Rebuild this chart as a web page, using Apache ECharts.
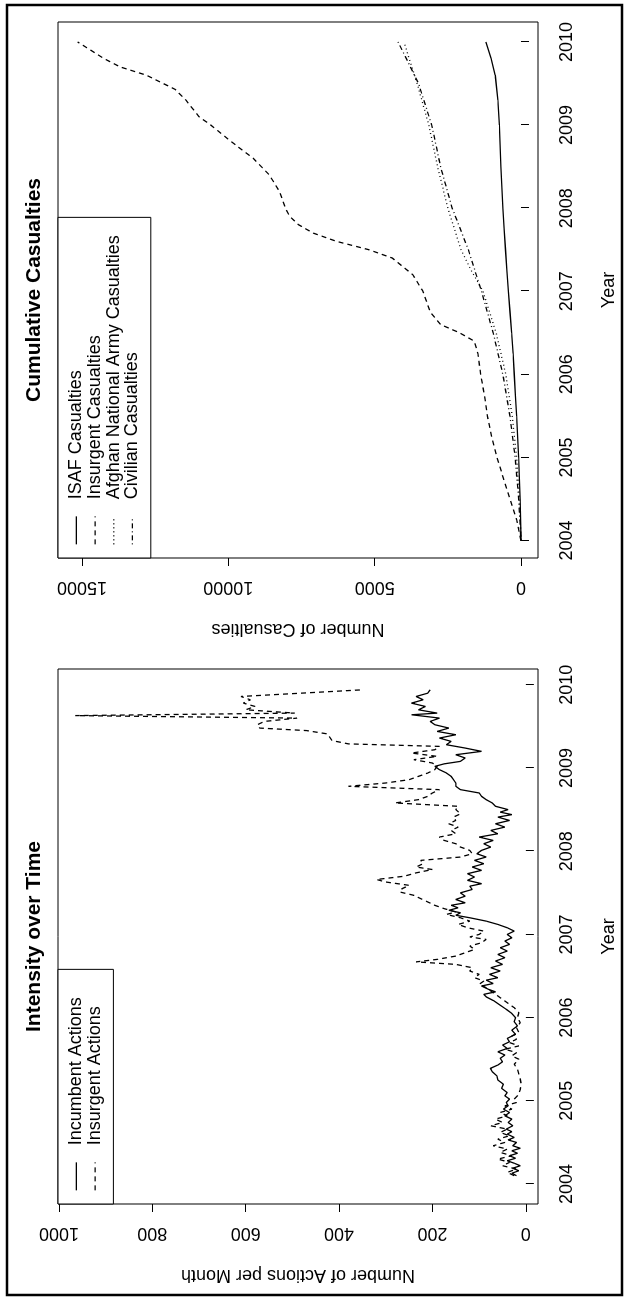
<!DOCTYPE html>
<html>
<head>
<meta charset="utf-8">
<script src="https://cdn.jsdelivr.net/npm/echarts@6/dist/echarts.min.js"></script>
<style>
html,body{margin:0;padding:0;background:#fff;overflow:hidden;width:626px;height:1297px;}
#wrap{position:absolute;left:0;top:0;width:1297px;height:626px;transform-origin:0 0;transform:rotate(-90deg) translateX(-1297px);}
</style>
</head>
<body>
<div id="wrap"></div>
<script>
// ---- data ----
const yearTicks = [2004, 2005, 2006, 2007, 2008, 2009, 2010];
const actionTicks = [0, 200, 400, 600, 800, 1000];
const casualtyTicks = [0, 5000, 10000, 15000];

const incumbentActions = [
[2004.10,20],[2004.13,30],[2004.16,15],[2004.19,28],[2004.22,12],[2004.25,25],[2004.28,40],[2004.31,22],
[2004.34,35],[2004.37,18],[2004.40,30],[2004.43,12],[2004.46,28],[2004.50,20],[2004.53,38],[2004.56,25],
[2004.60,40],[2004.63,30],[2004.66,42],[2004.70,28],[2004.74,38],[2004.78,30],[2004.82,45],[2004.86,35],
[2004.90,48],[2004.94,38],[2004.98,42],[2005.02,35],[2005.06,45],[2005.10,40],[2005.15,52],[2005.20,48],
[2005.25,60],[2005.30,62],[2005.35,72],[2005.39,76],[2005.43,60],[2005.47,50],[2005.51,55],[2005.55,45],
[2005.59,60],[2005.63,40],[2005.67,50],[2005.71,35],[2005.75,40],[2005.80,22],[2005.85,30],[2005.90,18],
[2005.95,25],[2006.00,22],[2006.05,30],[2006.10,42],[2006.15,55],[2006.20,68],[2006.25,85],[2006.28,90],
[2006.31,65],[2006.34,80],[2006.38,95],[2006.41,70],[2006.45,85],[2006.48,60],[2006.52,78],[2006.56,55],
[2006.60,75],[2006.64,50],[2006.68,65],[2006.72,45],[2006.76,60],[2006.80,40],[2006.84,55],[2006.88,35],
[2006.92,45],[2006.96,30],[2007.00,40],[2007.04,25],[2007.08,40],[2007.12,60],[2007.16,85],[2007.20,120],
[2007.23,150],[2007.26,140],[2007.29,165],[2007.32,145],[2007.35,160],[2007.38,130],[2007.42,150],[2007.46,130],
[2007.50,140],[2007.54,115],[2007.58,120],[2007.61,95],[2007.65,125],[2007.69,110],[2007.73,125],[2007.77,95],
[2007.81,115],[2007.85,90],[2007.89,110],[2007.93,85],[2007.97,105],[2008.01,95],[2008.05,75],[2008.09,90],
[2008.13,70],[2008.17,100],[2008.21,60],[2008.25,75],[2008.29,45],[2008.33,65],[2008.37,35],[2008.41,60],
[2008.44,30],[2008.47,55],[2008.50,38],[2008.54,65],[2008.58,72],[2008.62,85],[2008.66,95],[2008.70,100],
[2008.74,140],[2008.78,150],[2008.82,150],[2008.86,155],[2008.90,160],[2008.94,170],[2008.98,185],[2009.02,195],
[2009.05,175],[2009.08,140],[2009.12,130],[2009.16,150],[2009.20,95],[2009.24,130],[2009.28,170],[2009.32,160],
[2009.36,185],[2009.40,150],[2009.44,190],[2009.48,165],[2009.52,195],[2009.56,205],[2009.60,185],[2009.64,245],
[2009.66,190],[2009.70,230],[2009.74,215],[2009.78,245],[2009.82,220],[2009.86,235],[2009.90,210],[2009.94,205]
];

const insurgentActions = [
[2004.10,25],[2004.14,40],[2004.18,20],[2004.22,50],[2004.26,35],[2004.30,60],[2004.34,30],[2004.38,55],
[2004.42,40],[2004.46,70],[2004.50,45],[2004.54,60],[2004.58,35],[2004.62,55],[2004.66,40],[2004.70,75],
[2004.74,50],[2004.78,65],[2004.82,40],[2004.86,55],[2004.90,30],[2004.94,45],[2004.98,20],[2005.02,25],
[2005.08,15],[2005.14,12],[2005.20,10],[2005.26,12],[2005.32,15],[2005.38,18],[2005.44,25],[2005.50,15],
[2005.54,30],[2005.58,20],[2005.62,45],[2005.66,15],[2005.70,35],[2005.74,20],[2005.78,30],[2005.82,15],
[2005.88,20],[2005.94,12],[2006.00,18],[2006.06,15],[2006.12,25],[2006.18,40],[2006.24,55],[2006.30,70],
[2006.36,85],[2006.40,100],[2006.44,90],[2006.48,110],[2006.52,100],[2006.56,120],[2006.60,115],[2006.64,150],
[2006.67,235],[2006.70,190],[2006.74,150],[2006.78,130],[2006.82,110],[2006.86,120],[2006.90,95],[2006.94,85],
[2006.97,120],[2007.00,100],[2007.04,90],[2007.08,125],[2007.12,145],[2007.16,120],[2007.20,140],[2007.24,170],
[2007.27,150],[2007.31,175],[2007.35,195],[2007.39,210],[2007.43,225],[2007.47,240],[2007.51,270],[2007.55,265],
[2007.59,250],[2007.63,300],[2007.66,320],[2007.70,260],[2007.74,235],[2007.78,200],[2007.81,235],[2007.85,220],
[2007.89,225],[2007.93,140],[2007.97,115],[2008.01,120],[2008.05,140],[2008.09,150],[2008.13,175],[2008.17,185],
[2008.21,150],[2008.25,160],[2008.29,145],[2008.33,165],[2008.37,150],[2008.41,155],[2008.45,140],[2008.50,150],
[2008.54,145],[2008.58,280],[2008.62,230],[2008.66,210],[2008.70,200],[2008.74,185],[2008.78,380],[2008.82,300],
[2008.86,250],[2008.90,230],[2008.94,210],[2008.98,195],[2009.02,190],[2009.06,200],[2009.10,240],[2009.14,190],
[2009.18,245],[2009.22,195],[2009.26,185],[2009.29,380],[2009.33,415],[2009.37,420],[2009.41,425],[2009.45,470],
[2009.48,570],[2009.52,575],[2009.56,560],[2009.60,490],[2009.63,965],[2009.66,495],[2009.70,600],[2009.74,580],
[2009.78,605],[2009.82,590],[2009.86,610],[2009.94,350]
];

const isafCasualties = [
[2004.0,0],[2004.25,15],[2004.5,30],[2004.75,55],[2005.0,80],[2005.25,115],[2005.5,150],[2005.75,190],
[2006.0,230],[2006.25,270],[2006.5,320],[2006.75,375],[2007.0,430],[2007.25,480],[2007.5,530],[2007.75,575],
[2008.0,620],[2008.25,655],[2008.5,690],[2008.75,715],[2009.0,740],[2009.3,790],[2009.6,880],[2009.8,1020],[2010.0,1200]
];
const insurgentCasualties = [
[2004.0,0],[2004.25,150],[2004.5,380],[2004.75,600],[2005.0,820],[2005.25,1000],[2005.5,1150],[2005.75,1250],
[2006.0,1380],[2006.25,1470],[2006.4,1600],[2006.5,2100],[2006.6,2750],[2006.75,3100],[2007.0,3350],[2007.2,3700],
[2007.4,4400],[2007.5,5200],[2007.6,6300],[2007.7,7100],[2007.8,7600],[2007.9,7900],[2008.0,8050],[2008.2,8250],
[2008.4,8600],[2008.6,9150],[2008.8,9900],[2009.0,10600],[2009.1,11000],[2009.3,11450],[2009.43,11820],[2009.6,12800],
[2009.7,13700],[2009.8,14250],[2009.9,14700],[2010.0,15150]
];
const anaCasualties = [
[2004.0,0],[2004.5,50],[2005.0,150],[2005.5,300],[2006.0,520],[2006.5,850],[2007.0,1300],[2007.25,1700],
[2007.5,2050],[2008.0,2500],[2008.5,2850],[2009.0,3150],[2009.5,3550],[2010.0,4000]
];
const civilianCasualties = [
[2004.0,0],[2004.5,80],[2005.0,200],[2005.5,380],[2006.0,620],[2006.5,950],[2007.0,1350],[2007.5,1800],
[2008.0,2350],[2008.5,2750],[2009.0,3050],[2009.5,3500],[2010.0,4200]
];

// ---- chart ----
const FONT = 'Liberation Sans, Arial, sans-serif';
const chart = echarts.init(document.getElementById('wrap'), null, {renderer: 'canvas', width: 1297, height: 626});

function xAxisDef(idx, min, max) {
  return {
    type: 'value', gridIndex: idx, min: min, max: max,
    name: 'Year', nameLocation: 'middle', nameGap: 62,
    nameTextStyle: {fontFamily: FONT, fontSize: 18, color: '#000'},
    axisLine: {show: false},
    splitLine: {show: false},
    axisTick: {show: true, length: 8, lineStyle: {color: '#000'}, customValues: yearTicks},
    axisLabel: {fontFamily: FONT, fontSize: 18, color: '#000', margin: 20, customValues: yearTicks,
      formatter: v => String(v)}
  };
}
function yAxisDef(idx, min, max, ticks, name) {
  return {
    type: 'value', gridIndex: idx, min: min, max: max,
    name: name, nameLocation: 'middle', nameGap: 62, nameRotate: 90,
    nameTextStyle: {fontFamily: FONT, fontSize: 18, color: '#000'},
    axisLine: {show: false},
    splitLine: {show: false},
    axisTick: {show: true, length: 8, lineStyle: {color: '#000'}, customValues: ticks},
    axisLabel: {fontFamily: FONT, fontSize: 18, color: '#000', margin: 20, rotate: 90, customValues: ticks,
      formatter: v => String(v)}
  };
}
function lineSeries(name, data, xi, dash) {
  return {
    type: 'line', name: name, data: data, xAxisIndex: xi, yAxisIndex: xi,
    showSymbol: false, symbol: 'none', animation: false, smooth: false,
    lineStyle: {color: '#000', width: 1.3, type: dash},
    itemStyle: {color: '#000'}
  };
}

const legendText = {fontFamily: FONT, fontSize: 18, color: '#000', lineHeight: 18.7, padding: [0, 0, 0, 12]};
const legendCommon = {
  orient: 'vertical', top: 58, itemWidth: 28, itemHeight: 14, itemGap: 0,
  padding: [9, 12, 9, 13], borderColor: '#000', borderWidth: 1, backgroundColor: '#fff',
  selectedMode: false, itemStyle: {opacity: 0}, lineStyle: {width: 1.3}
};

chart.setOption({
  animation: false,
  backgroundColor: '#fff',
  title: [
    {text: 'Intensity over Time', left: 360.5, top: 24, textAlign: 'center', padding: 0,
     textStyle: {fontFamily: FONT, fontSize: 21, fontWeight: 'bold', color: '#000'}},
    {text: 'Cumulative Casualties', left: 1007, top: 24, textAlign: 'center', padding: 0,
     textStyle: {fontFamily: FONT, fontSize: 21, fontWeight: 'bold', color: '#000'}}
  ],
  grid: [
    {left: 93, top: 58, width: 535, height: 480, show: true, borderColor: '#000', borderWidth: 1, backgroundColor: 'transparent'},
    {left: 739, top: 58, width: 536, height: 480, show: true, borderColor: '#000', borderWidth: 1, backgroundColor: 'transparent'}
  ],
  xAxis: [xAxisDef(0, 2003.76, 2010.19), xAxisDef(1, 2003.79, 2010.24)],
  yAxis: [yAxisDef(0, -26, 1002, actionTicks, 'Number of Actions per Month'),
          yAxisDef(1, -581, 15820, casualtyTicks, 'Number of Casualties')],
  legend: [
    Object.assign({}, legendCommon, {left: 93,
     data: ['Incumbent Actions', 'Insurgent Actions'],
     textStyle: Object.assign({}, legendText, {width: 164})}),
    Object.assign({}, legendCommon, {left: 739,
     data: ['ISAF Casualties', 'Insurgent Casualties', 'Afghan National Army Casualties', 'Civilian Casualties'],
     textStyle: Object.assign({}, legendText, {width: 270})})
  ],
  series: [
    lineSeries('Incumbent Actions', incumbentActions, 0, 'solid'),
    lineSeries('Insurgent Actions', insurgentActions, 0, [5, 4]),
    lineSeries('ISAF Casualties', isafCasualties, 1, 'solid'),
    lineSeries('Insurgent Casualties', insurgentCasualties, 1, [5, 4]),
    lineSeries('Afghan National Army Casualties', anaCasualties, 1, [1, 3]),
    lineSeries('Civilian Casualties', civilianCasualties, 1, [1, 3, 5, 3])
  ],
  graphic: [
    {type: 'rect', shape: {x: 2, y: 7, width: 1290, height: 615}, style: {fill: 'none', stroke: '#000', lineWidth: 2.5}, silent: true}
  ]
});
</script>
</body>
</html>
